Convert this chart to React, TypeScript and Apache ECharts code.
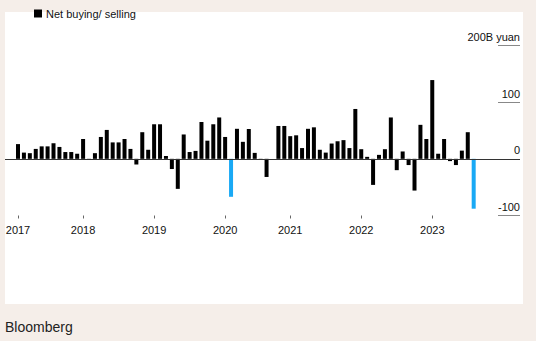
import React, { useEffect, useRef } from "react";
import * as echarts from "echarts";

// Net buying/selling (billion yuan), one bar per period
const netValues: number[] = [
  26, 11, 10, 17.5, 22, 22, 27.5, 21, 12, 12, 9,
  35, -2, 10, 38.6, 51, 29, 29, 35, 17.5, -10, 47, 16,
  61, 61, 5, -18, -53, 43, 12, 14, 65, 32, 61, 73,
  38.6, -67, 53, 30, 52.6, 10.5, -1.5, -32, 0, 58, 58,
  40, 41.5, 19, 53, 55.6, 16, 11, 27, 31, 33, 19, 88,
  17, 3.5, -46, 7, 17, 73, -20, 13, -11, -56, 60, 35,
  139, 9, 35, -4, -11, 14.5, 47, -88,
];
const highlightIndices: number[] = [36, 77];
const yearLabels: string[] = ["2017", "2018", "2019", "2020", "2021", "2022", "2023"];
const yearTickIndices: number[] = [0, 11, 23, 35, 46, 58, 70];
const yTicks: number[] = [-100, 0, 100, 200];
const seriesName = "Net buying/ selling";

const FONT = "'Liberation Sans', Arial, Helvetica, sans-serif";

export default function App() {
  const ref = useRef<HTMLDivElement>(null);

  useEffect(() => {
    if (!ref.current) return;
    const chart = echarts.init(ref.current, undefined, { renderer: "svg" });

    // pixel layout of the band positions
    const firstCenter = 18;
    const pitch = 5.918;
    const plotLeft = 5;
    const plotRight = 520;
    const tickLen = 22;
    const xMin = (plotLeft - firstCenter) / pitch;
    const xMax = (plotRight - firstCenter) / pitch;

    const data = netValues.map((v, i) => ({
      value: [i, v],
      itemStyle: highlightIndices.includes(i) ? { color: "#19a9f5" } : undefined,
    }));

    chart.setOption({
      animation: false,
      backgroundColor: "#f5eee9",
      textStyle: { fontFamily: FONT },
      graphic: [
        {
          type: "rect",
          z: -10,
          silent: true,
          shape: { x: 5, y: 12, width: 518, height: 292 },
          style: { fill: "#ffffff" },
        },
        {
          type: "text",
          left: 5,
          top: 320,
          style: {
            text: "Bloomberg",
            fontSize: 14,
            fontFamily: FONT,
            fill: "#222222",
          },
        },
      ],
      legend: {
        data: [seriesName],
        left: 34,
        top: 8,
        padding: 0,
        icon: "rect",
        itemWidth: 8,
        itemHeight: 8,
        selectedMode: false,
        textStyle: { fontSize: 11, color: "#111111", fontFamily: FONT, padding: [0, 0, 0, -1] },
      },
      grid: { left: plotLeft, right: 536 - plotRight, top: 45.5, bottom: 341 - 215.5 },
      xAxis: {
        type: "value",
        min: xMin,
        max: xMax,
        axisLine: { show: false, onZero: false },
        splitLine: { show: false },
        axisTick: {
          show: true,
          customValues: yearTickIndices,
          length: 3,
          lineStyle: { color: "#666666" },
        },
        axisLabel: {
          customValues: yearTickIndices,
          margin: 9,
          fontSize: 11,
          color: "#111111",
          fontFamily: FONT,
          formatter: (v: number) => {
            const k = yearTickIndices.indexOf(Math.round(v));
            return k >= 0 ? yearLabels[k] : "";
          },
        },
      },
      yAxis: {
        type: "value",
        position: "right",
        offset: -tickLen,
        min: yTicks[0],
        max: yTicks[yTicks.length - 1],
        interval: 100,
        axisLine: { show: false, onZero: false },
        splitLine: { show: false },
        axisTick: {
          show: true,
          inside: false,
          length: tickLen,
          lineStyle: { color: "#888888", width: 1 },
        },
        axisLabel: {
          inside: false,
          margin: tickLen,
          align: "right",
          verticalAlign: "bottom",
          padding: [0, 0, 3, 0],
          fontSize: 11,
          color: "#111111",
          fontFamily: FONT,
          formatter: (v: number) => (v === 200 ? "200B yuan" : String(v)),
        },
      },
      series: [
        {
          name: seriesName,
          type: "bar",
          barWidth: 4,
          itemStyle: { color: "#000000" },
          data,
          markLine: {
            silent: true,
            symbol: ["none", "none"],
            label: { show: false },
            lineStyle: { color: "#333333", width: 1, type: "solid" },
            data: [{ yAxis: 0 }],
          },
        },
      ],
    });

    return () => chart.dispose();
  }, []);

  return (
    <div
      ref={ref}
      style={{ position: "absolute", left: 0, top: 0, width: 536, height: 341 }}
    />
  );
}
